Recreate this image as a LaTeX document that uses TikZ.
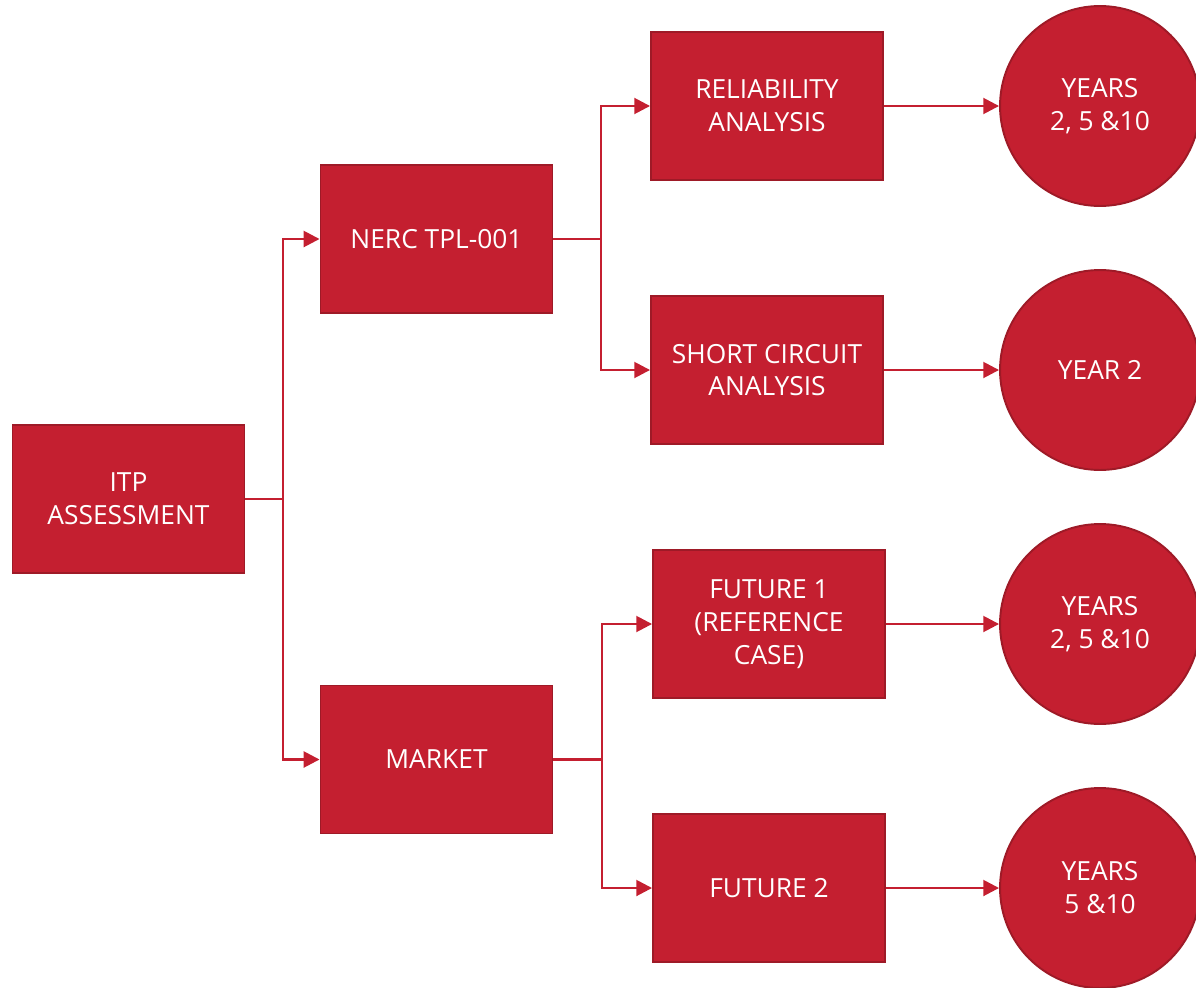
\documentclass[tikz,border=0pt]{standalone}
\usepackage{fontspec}
\setmainfont{Open Sans}
\usetikzlibrary{arrows.meta}
\definecolor{boxred}{HTML}{C41F30}
\definecolor{edgered}{HTML}{9E1A27}
\tikzset{
  stepbox/.style={rectangle, draw=edgered, line width=1.1pt, fill=boxred, text=white,
    minimum width=4.64cm, minimum height=2.96cm, align=center,
    font=\fontsize{15}{18.7}\selectfont},
  yearcircle/.style={circle, draw=edgered, line width=1.1pt, fill=boxred, text=white,
    minimum size=4cm, align=center, font=\fontsize{15}{18.7}\selectfont},
  link/.style={color=boxred, line width=1.5pt},
  linkarrow/.style={link, -{Triangle[length=9pt, width=9pt]}}
}
\begin{document}
\begin{tikzpicture}[x=0.02cm, y=-0.02cm]
\useasboundingbox (0,0) rectangle (1196,987);
\node[stepbox] (ITP) at (128.5,499) {ITP\\ASSESSMENT};
\node[stepbox] (NERC) at (436.5,239) {NERC TPL-001};
\node[stepbox] (MKT) at (436.5,759.5) {MARKET};
\node[stepbox] (REL) at (767,106) {RELIABILITY\\ANALYSIS};
\node[stepbox] (SC) at (767,370) {SHORT CIRCUIT\\ANALYSIS};
\node[stepbox] (F1) at (769,624) {FUTURE 1\\(REFERENCE\\CASE)};
\node[stepbox] (F2) at (769,888) {FUTURE 2};
\node[yearcircle] (Y1) at (1100,106) {YEARS\\2, 5 \&10};
\node[yearcircle] (Y2) at (1100,370) {YEAR 2};
\node[yearcircle] (Y3) at (1100,624) {YEARS\\2, 5 \&10};
\node[yearcircle] (Y4) at (1100,888) {YEARS\\5 \&10};
% junctions
\coordinate (J0) at (283,499);
\coordinate (J1) at (601,239);
\coordinate (J2) at (602,759.5);
\path[link]
  (ITP) edge (J0)
  (NERC.east) edge (J1)
  (MKT.east) edge (J2)
;
\draw[linkarrow] (J0) |- (NERC);
\draw[linkarrow] (J0) |- (MKT);
\draw[linkarrow] (J1) |- (REL);
\draw[linkarrow] (J1) |- (SC);
\draw[linkarrow] (J2) |- (F1);
\draw[linkarrow] (J2) |- (F2);
\path[linkarrow]
  (REL) edge (Y1)
  (SC) edge (Y2)
  (F1) edge (Y3)
  (F2) edge (Y4)
;
\end{tikzpicture}
\end{document}
